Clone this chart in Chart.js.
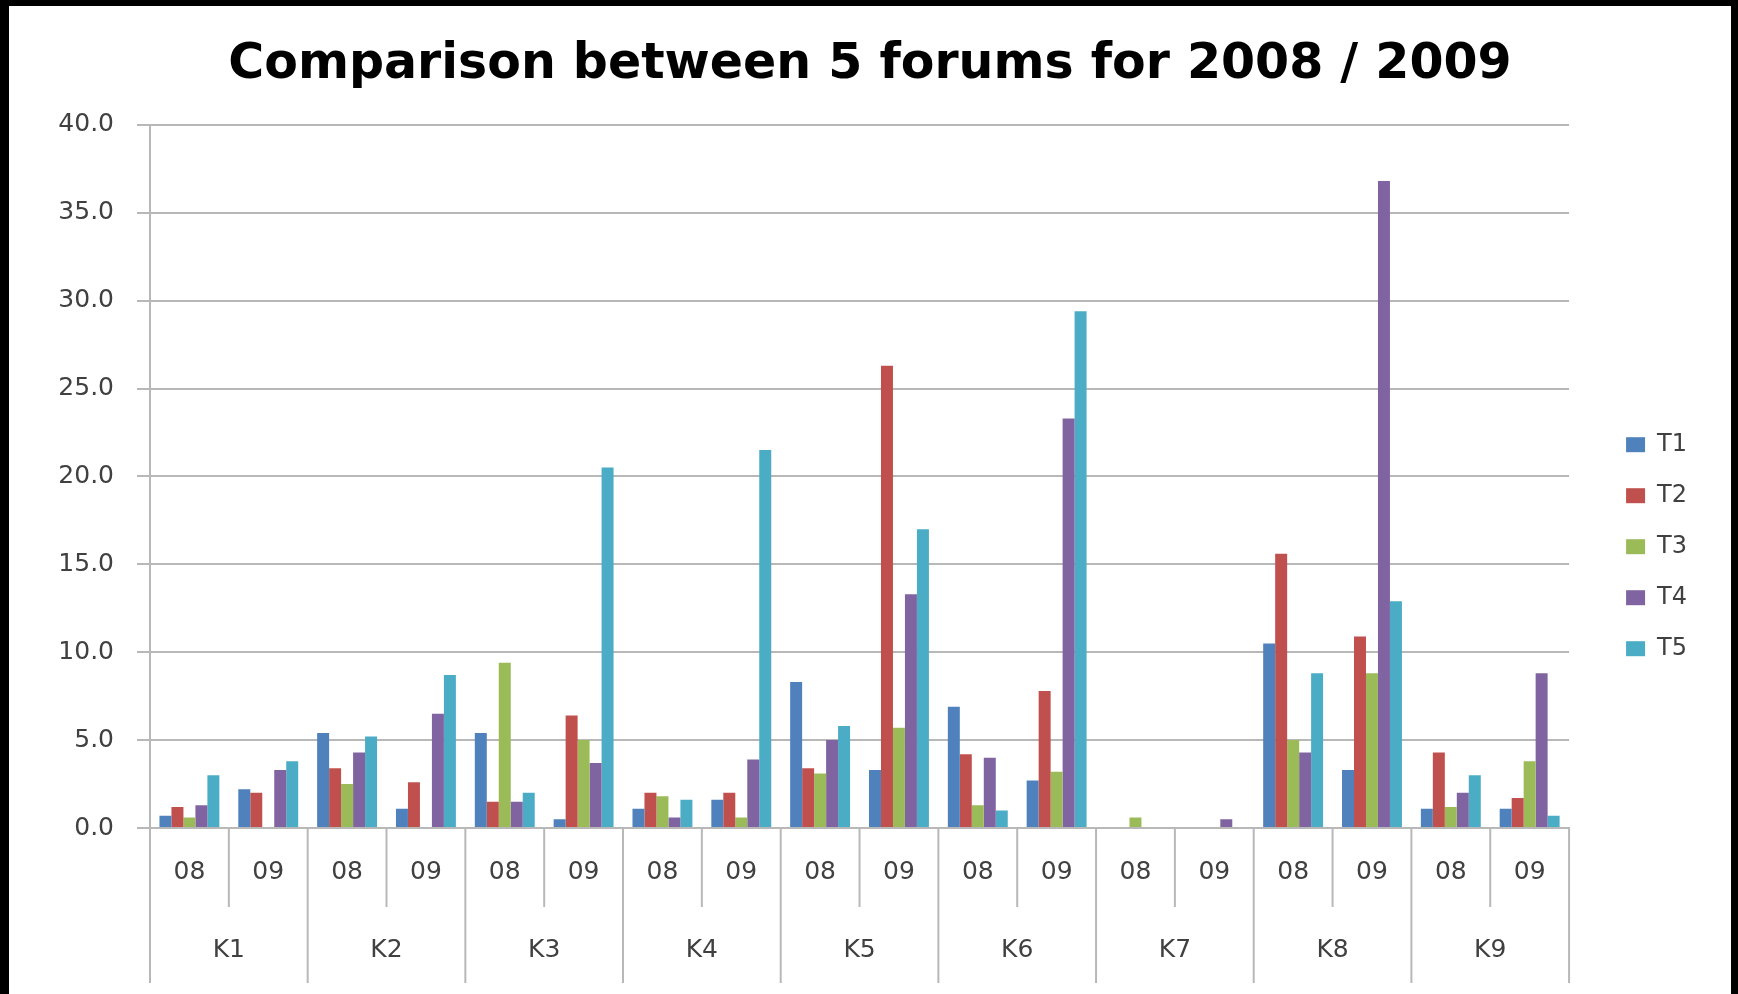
<!DOCTYPE html>
<html>
<head>
<meta charset="utf-8">
<title>Comparison between 5 forums</title>
<script src="https://cdn.jsdelivr.net/npm/chart.js@4"></script>
<style>
  html, body { margin: 0; padding: 0; background: #000; }
  #wrap {
    position: absolute;
    left: 9px;
    top: 6px;
    width: 1722px;
    height: 988px;
    background: #fff;
  }
</style>
</head>
<body>
<div id="wrap"><canvas id="myChart"></canvas></div>
<script>
'use strict';

// categories
let forums = ['K1', 'K2', 'K3', 'K4', 'K5', 'K6', 'K7', 'K8', 'K9'];
let years = ['08', '09'];
let yTicks = [0, 5, 10, 15, 20, 25, 30, 35, 40];

// series values, one per forum/year pair (K1-08, K1-09, K2-08 ...)
let t1 = [0.7, 2.2, 5.4, 1.1, 5.4, 0.5, 1.1, 1.6, 8.3, 3.3, 6.9, 2.7, 0, 0, 10.5, 3.3, 1.1, 1.1];
let t2 = [1.2, 2.0, 3.4, 2.6, 1.5, 6.4, 2.0, 2.0, 3.4, 26.3, 4.2, 7.8, 0, 0, 15.6, 10.9, 4.3, 1.7];
let t3 = [0.6, 0, 2.5, 0, 9.4, 5.0, 1.8, 0.6, 3.1, 5.7, 1.3, 3.2, 0.6, 0, 5.0, 8.8, 1.2, 3.8];
let t4 = [1.3, 3.3, 4.3, 6.5, 1.5, 3.7, 0.6, 3.9, 5.0, 13.3, 4.0, 23.3, 0, 0.5, 4.3, 36.8, 2.0, 8.8];
let t5 = [3.0, 3.8, 5.2, 8.7, 2.0, 20.5, 1.6, 21.5, 5.8, 17.0, 1.0, 29.4, 0, 0, 8.8, 12.9, 3.0, 0.7];

let seriesNames = ['T1', 'T2', 'T3', 'T4', 'T5'];
let seriesColors = ['#4f81bd', '#c0504d', '#9bbb59', '#8064a2', '#4bacc6'];

// 08 / 09 labels for every forum
let yearLabels = [];
for (let i = 0; i < forums.length; i++) {
  for (let j = 0; j < years.length; j++) {
    yearLabels.push(years[j]);
  }
}

let allSeries = [t1, t2, t3, t4, t5];
let datasets = [];
for (let i = 0; i < allSeries.length; i++) {
  datasets.push({
    label: seriesNames[i],
    data: allSeries[i],
    backgroundColor: seriesColors[i],
    borderWidth: 0,
    barPercentage: 1,
    categoryPercentage: 0.76
  });
}

let gridGray = '#b8b8b8';
let textGray = '#404040';
let fontName = '"DejaVu Sans", Verdana, sans-serif';

// vertical separators under the x axis (short between 08/09, long between forums)
let separatorPlugin = {
  id: 'separators',
  afterDraw: function (chart) {
    let xs = chart.scales.x;
    let x2 = chart.scales.x2;
    let c = chart.ctx;
    let half = (xs.getPixelForValue(1) - xs.getPixelForValue(0)) / 2;
    c.save();
    c.strokeStyle = gridGray;
    c.lineWidth = 2;
    for (let i = 0; i <= yearLabels.length; i++) {
      let px = i < yearLabels.length ? xs.getPixelForValue(i) - half : xs.getPixelForValue(i - 1) + half;
      let endY = (i % years.length === 0) ? x2.bottom : xs.bottom;
      c.beginPath();
      c.moveTo(px, xs.top);
      c.lineTo(px, endY);
      c.stroke();
    }
    c.restore();
  }
};

let ctx = document.getElementById('myChart').getContext('2d');

new Chart(ctx, {
  type: 'bar',
  data: {
    labels: yearLabels,
    datasets: datasets
  },
  plugins: [separatorPlugin],
  options: {
    responsive: true,
    maintainAspectRatio: false,
    animation: false,
    layout: {
      padding: { left: 34, right: 34, top: 0, bottom: 11 }
    },
    plugins: {
      title: {
        display: true,
        text: 'Comparison between 5 forums for 2008 / 2009',
        color: '#000',
        font: { family: fontName, size: 49, weight: 'bold' },
        padding: { top: 30, bottom: 30 }
      },
      legend: {
        position: 'right',
        title: {
          display: true,
          text: ' ',
          padding: { top: 0, bottom: 78 },
          font: { family: fontName, size: 22 }
        },
        labels: {
          boxWidth: 19,
          boxHeight: 15,
          padding: 27,
          color: textGray,
          font: { family: fontName, size: 24 }
        }
      },
      tooltip: { enabled: false }
    },
    scales: {
      y: {
        min: 0,
        max: 40,
        afterBuildTicks: function (scale) {
          scale.ticks = yTicks.map(function (v) { return { value: v }; });
        },
        afterFit: function (scale) { scale.width = 107; },
        ticks: {
          color: textGray,
          padding: 23,
          font: { family: fontName, size: 25 },
          callback: function (value) { return value.toFixed(1); }
        },
        grid: {
          color: gridGray,
          lineWidth: 2,
          tickLength: 13
        },
        border: { color: gridGray, width: 2 }
      },
      yGap: {
        position: 'right',
        display: true,
        grid: { display: false },
        border: { display: false },
        ticks: { display: false },
        afterFit: function (scale) { scale.width = 30; }
      },
      x: {
        position: 'bottom',
        afterFit: function (scale) { scale.height = 79; },
        ticks: {
          color: textGray,
          padding: 21,
          maxRotation: 0,
          autoSkip: false,
          font: { family: fontName, size: 25 }
        },
        grid: { display: false },
        border: { color: gridGray, width: 2 }
      },
      x2: {
        type: 'category',
        position: 'bottom',
        labels: forums,
        offset: true,
        afterFit: function (scale) { scale.height = 76; },
        ticks: {
          color: textGray,
          padding: 20,
          maxRotation: 0,
          autoSkip: false,
          font: { family: fontName, size: 25 }
        },
        grid: { display: false },
        border: { display: false }
      }
    }
  }
});
</script>
</body>
</html>
